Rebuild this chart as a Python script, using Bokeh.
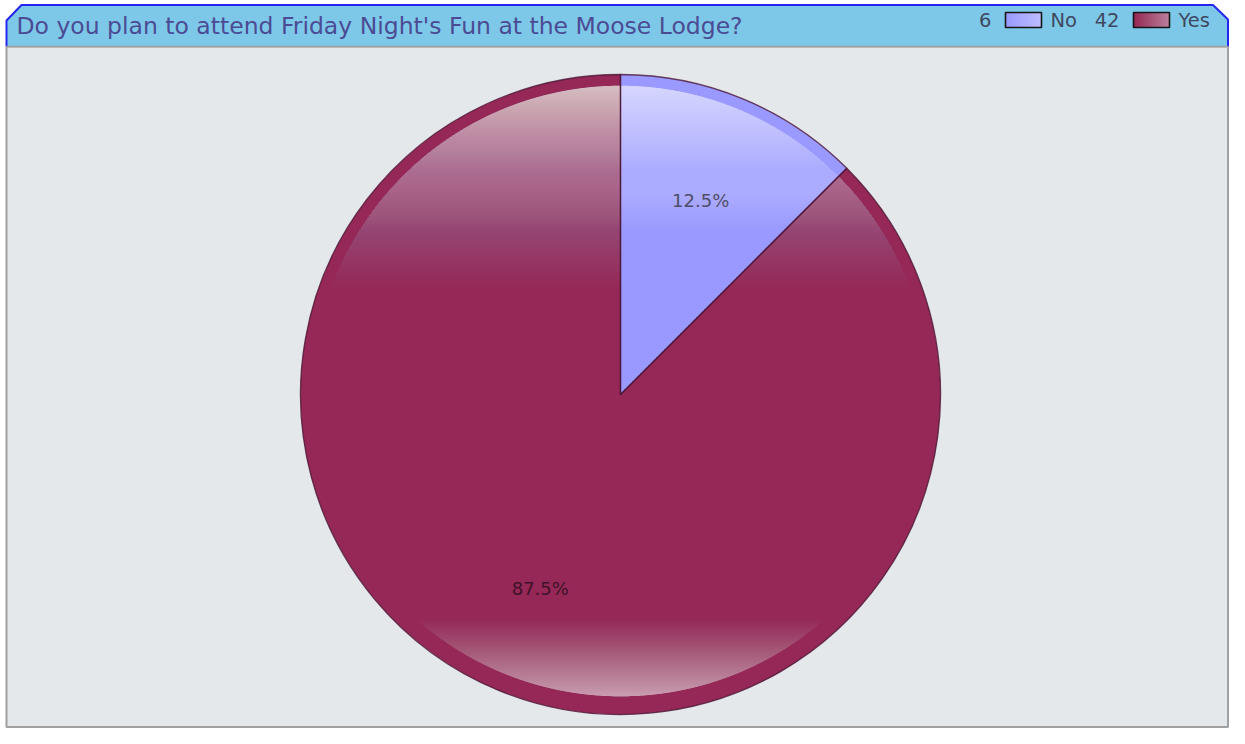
import numpy as np
from bokeh.plotting import figure
from bokeh.models import Range1d, ColumnDataSource
from bokeh.embed import file_html
from bokeh.resources import INLINE
from bokeh.core.properties import value

# ---------------- data ----------------
title_text = "Do you plan to attend Friday Night's Fun at the Moose Lodge?"
categories = ["No", "Yes"]
counts = [6, 42]
slice_colors = ["#9999FF", "#952856"]
label_colors = ["#4e4e68", "#3e1229"]

# ---------------- layout helpers (reference pixel coords) ----------------
W, H = 1229, 728
def Y(sy):
    return H - sy

FONT = "DejaVu Sans"

p = figure(width=W, height=H, x_range=Range1d(0, W), y_range=Range1d(0, H),
           output_backend="svg", toolbar_location=None, min_border=0,
           x_axis_location=None, y_axis_location=None, outline_line_color=None)
p.grid.visible = False
p.background_fill_color = "white"
p.border_fill_color = "white"

XL, XR, YB = 6, 1227.5, 726.5

# body panel
p.quad(left=XL, right=XR, top=Y(46), bottom=Y(YB), fill_color="#E4E8EB",
       line_color="#a0a0a0", line_width=2)

# header
hx = [XL, XL, 21, XR - 15, XR, XR]
hy = [Y(46), Y(20), Y(4.5), Y(4.5), Y(19), Y(46)]
p.patch(hx, hy, fill_color="#7DC8E8", line_color=None)
p.line(hx, hy, line_color="#2626F0", line_width=2)
p.line([XL, XR], [Y(46), Y(46)], line_color="#a0a0a0", line_width=1.5)

p.text(x=[16], y=[Y(25)], text=[title_text], text_font=value(FONT),
       text_font_size="23.5px", text_color="#4B4B94", text_align="left",
       text_baseline="middle")

# ---------------- pie ----------------
cx, cy, R = 620, Y(394), 320
total = float(sum(counts))
fracs = [c / total for c in counts]
starts, ends = [], []
cum = 0.0
for f in fracs:
    e = np.pi / 2 - cum * 2 * np.pi
    s = e - f * 2 * np.pi
    starts.append(s)
    ends.append(e)
    cum += f

src = ColumnDataSource(dict(cat=categories, count=counts, start=starts, end=ends,
                            color=slice_colors))
p.wedge(x=cx, y=cy, radius=R, start_angle="start", end_angle="end",
        fill_color="color", line_color=None, source=src)

# glossy highlights: nested white overlays (no seams)
def arc_region(ccx, ccy, r, yb, above=True, n=160):
    t0 = np.arcsin(np.clip((yb - ccy) / r, -1, 1))
    if above:
        t = np.linspace(t0, np.pi - t0, n)
    else:
        t = np.linspace(np.pi - t0, 2 * np.pi + t0, n)
    return list(ccx + r * np.cos(t)), list(ccy + r * np.sin(t))

def gloss(ccx, ccy, r, sy_from, sy_to, fmax, above, step=2):
    xs, ys, alphas = [], [], []
    g_prev = 1.0
    n = int(abs(sy_to - sy_from) / step)
    for m in range(n):
        if above:
            sb = sy_from - step * m
            mid = sb - step / 2
            f = fmax * (sy_from - mid) / (sy_from - sy_to)
        else:
            sb = sy_from + step * m
            mid = sb + step / 2
            f = fmax * (mid - sy_from) / (sy_to - sy_from)
        g = 1 - f
        a = 1 - g / g_prev
        g_prev = g
        x, y = arc_region(ccx, ccy, r, Y(sb), above)
        xs.append(x); ys.append(y); alphas.append(max(a, 0))
    p.patches(xs, ys, fill_color="white", fill_alpha=alphas, line_color=None)

gloss(620, Y(394), 309, 290, 85, 0.78, above=True)
gloss(620, Y(386), 310, 618, 697, 0.62, above=False)

# outlines on top
p.wedge(x=cx, y=cy, radius=R, start_angle="start", end_angle="end",
        fill_color=None, line_color="#4a1434", line_alpha=0.8, line_width=1.3,
        source=src)

# percent labels
lx, ly, lt = [], [], []
for s, e, f in zip(starts, ends, fracs):
    m = (s + e) / 2
    lx.append(cx + 0.655 * R * np.cos(m))
    ly.append(cy + 0.655 * R * np.sin(m))
    lt.append(f"{f * 100:.1f}%")
p.text(x=lx, y=ly, text=lt, text_font=value(FONT), text_font_size="18px",
       text_color=label_colors, text_align="center", text_baseline="middle")

# ---------------- legend ----------------
sw_left = [1005, 1133]
sw_w = 36
sw_top, sw_bot = Y(12), Y(27)
for i, cat in enumerate(categories):
    L = sw_left[i]
    Rr = L + sw_w
    p.quad(left=L, right=Rr, top=sw_top, bottom=sw_bot, fill_color=slice_colors[i],
           line_color=None)
    nstep = 18
    g_prev = 1.0
    lefts, alphas = [], []
    for k in range(nstep):
        xk = L + (Rr - L) * k / nstep
        f = 0.45 * (k + 0.5) / nstep
        g = 1 - f
        lefts.append(xk); alphas.append(1 - g / g_prev)
        g_prev = g
    p.quad(left=lefts, right=[Rr] * nstep, top=[sw_top] * nstep, bottom=[sw_bot] * nstep,
           fill_color="white", fill_alpha=alphas, line_color=None)
    p.quad(left=L, right=Rr, top=sw_top, bottom=sw_bot, fill_color=None,
           line_color="#151515", line_width=1.6)
    p.text(x=[L - 14], y=[Y(19.5)], text=[str(counts[i])], text_font=value(FONT),
           text_font_size="19.5px", text_color="#3f4862", text_align="right",
           text_baseline="middle")
    p.text(x=[Rr + 9], y=[Y(19.5)], text=[cat], text_font=value(FONT),
           text_font_size="19.5px", text_color="#3f4862", text_align="left",
           text_baseline="middle")

open("out.html", "w").write(file_html(p, INLINE))
